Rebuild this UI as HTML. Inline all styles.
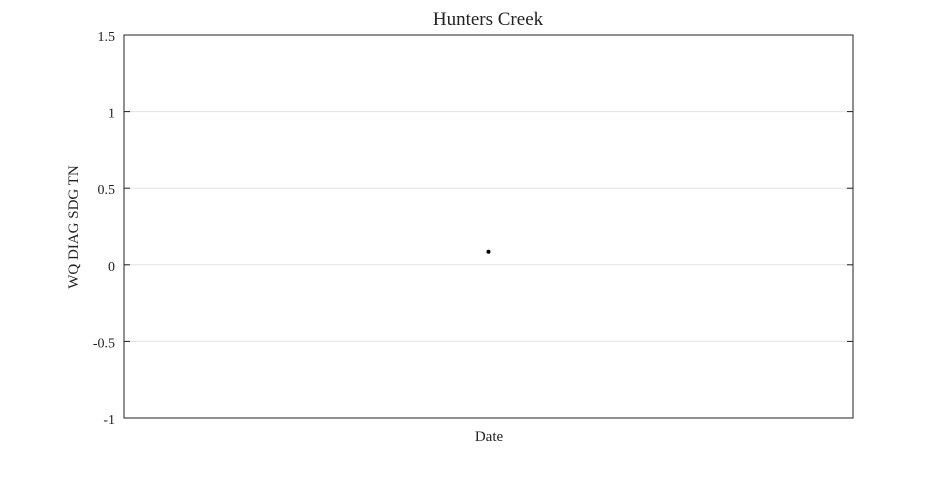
<!DOCTYPE html>
<html><head><meta charset="utf-8"><style>
body{margin:0;background:#fff;width:945px;height:472px;overflow:hidden}
svg text{font-family:"Liberation Serif",serif;fill:#222}
</style></head><body>
<svg width="945" height="472">
<text x="488" y="25" text-anchor="middle" font-size="19">Hunters Creek</text>
<g id="grid"></g>
<rect x="124" y="35" width="729" height="383" fill="none" stroke="#222" stroke-width="1"/>
<g id="ticks"></g>
<g id="pts"></g>
<text x="489" y="441" text-anchor="middle" font-size="15">Date</text>
<text transform="translate(78,227) rotate(-90)" text-anchor="middle" font-size="15">WQ DIAG SDG TN</text>
</svg>
<script>
const yTicks=[1.5,1,0.5,0,-0.5,-1];
const yTickLabels=["1.5","1","0.5","0","-0.5","-1"];
const xVals=[0.5];
const yVals=[0.085];
const L=124,R=853,T=35,B=418,yMin=-1,yMax=1.5;
const ys=v=>B-(v-yMin)/(yMax-yMin)*(B-T);
const xs=v=>L+v*(R-L);
const NS="http://www.w3.org/2000/svg";
const g=document.getElementById('grid'),tk=document.getElementById('ticks'),pg=document.getElementById('pts');
yTicks.forEach((v,i)=>{
  const y=ys(v);
  if(v>yMin&&v<yMax){
    const l=document.createElementNS(NS,'line');
    l.setAttribute('x1',L);l.setAttribute('x2',R);l.setAttribute('y1',y);l.setAttribute('y2',y);
    l.setAttribute('stroke','#e3e3e3');
    
    
    g.appendChild(l);
    [[L,L+6],[R-6,R]].forEach(p=>{
      const t=document.createElementNS(NS,'line');
      t.setAttribute('x1',p[0]);t.setAttribute('x2',p[1]);t.setAttribute('y1',y);t.setAttribute('y2',y);
      t.setAttribute('stroke','#222');
      
      
      tk.appendChild(t);
    });
  }
  const tx=document.createElementNS(NS,'text');
  tx.setAttribute('x',L-9);tx.setAttribute('y',y+6);tx.setAttribute('text-anchor','end');tx.setAttribute('font-size','14');
  tx.textContent=yTickLabels[i];
  
  
  tk.appendChild(tx);
});
xVals.forEach((v,i)=>{
  const c=document.createElementNS(NS,'circle');
  c.setAttribute('cx',xs(v));c.setAttribute('cy',ys(yVals[i]));c.setAttribute('r','2');c.setAttribute('fill','#000');
  
  
  pg.appendChild(c);
});
</script>
</body></html>
